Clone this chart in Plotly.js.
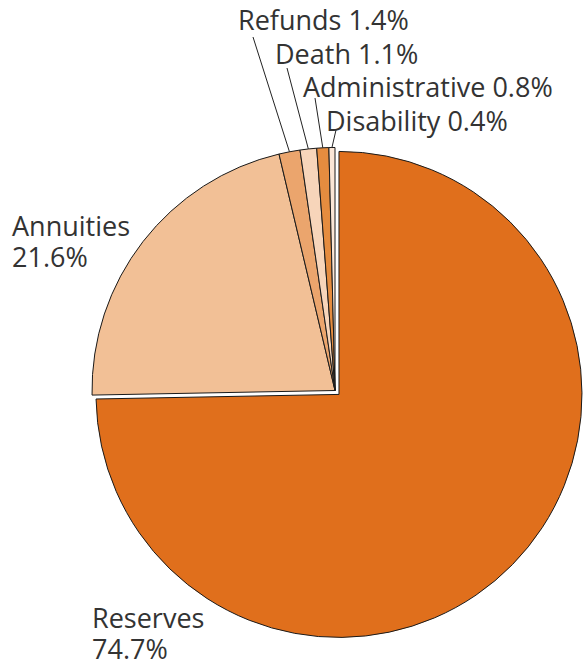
<!DOCTYPE html>
<html><head><meta charset="utf-8">
<script src="https://cdn.plot.ly/plotly-3.0.1.min.js"></script>
<style>html,body{margin:0;padding:0;background:#fff}#chart{width:584px;height:662px}</style>
</head><body><div id="chart"></div>
<script>
var categories = ["Reserves", "Annuities", "Refunds", "Death", "Administrative", "Disability"];
var shares = [74.7, 21.6, 1.4, 1.1, 0.8, 0.4];
var sliceColors = ["#E06F1C", "#F2C096", "#EBA56D", "#F7D5BA", "#E58C3F", "#FBE6D6"];
var pulls = [0.023, 0, 0, 0, 0, 0];

var W = 584, H = 662;
var CX = 335, CY = 390.5, R = 243;           // pie centre / radius in pixels
var maxPull = Math.max.apply(null, pulls);
var half = R * (1 + maxPull);
var dom = {
  x: [(CX - half) / W, (CX + half) / W],
  y: [1 - (CY + half) / H, 1 - (CY - half) / H]
};
function px(x) { return x / W; }
function py(y) { return 1 - y / H; }

// label placement (pixels): text anchor and leader-line top
var labelPos = {
  "Refunds":        {tx: 236, ty: 19, lx: 253, ly: 37},
  "Death":          {tx: 273, ty: 53, lx: 287, ly: 68},
  "Administrative": {tx: 301, ty: 87, lx: 315, ly: 98},
  "Disability":     {tx: 324, ty: 121, lx: 336, ly: 130},
  "Annuities":      {tx: 10, ty: 226, two: true},
  "Reserves":       {tx: 90, ty: 617, two: true}
};

var total = shares.reduce(function (a, b) { return a + b; }, 0);
var annotations = [], shapes = [];
var cum = 0;
var font = {family: "Open Sans, sans-serif", size: 27, color: "#333333"};
function note(x, y, text) {
  return {xref: "paper", yref: "paper", x: px(x), y: py(y), xanchor: "left", yanchor: "middle",
    text: text, showarrow: false, font: font};
}
for (var i = 0; i < categories.length; i++) {
  var mid = (cum + shares[i] / 2) / total * 2 * Math.PI;
  cum += shares[i];
  var p = labelPos[categories[i]];
  var pct = shares[i].toFixed(1) + "%";
  if (p.two) {
    annotations.push(note(p.tx, p.ty, categories[i]));
    annotations.push(note(p.tx, p.ty + 31, pct));
  } else {
    annotations.push(note(p.tx, p.ty, categories[i] + " " + pct));
    var ex = CX + R * Math.sin(mid), ey = CY - R * Math.cos(mid);
    shapes.push({type: "line", xref: "paper", yref: "paper", x0: px(p.lx), y0: py(p.ly), x1: px(ex), y1: py(ey),
      line: {color: "#222", width: 1}});
  }
}

var data = [{
  type: "pie",
  labels: categories,
  values: shares,
  sort: false,
  direction: "clockwise",
  rotation: 0,
  pull: pulls,
  textinfo: "none",
  hoverinfo: "none",
  showlegend: false,
  domain: dom,
  marker: {colors: sliceColors, line: {color: "#1a1a1a", width: 1}}
}];

var layout = {
  width: W, height: H,
  margin: {l: 0, r: 0, t: 0, b: 0},
  paper_bgcolor: "#fff",
  showlegend: false,
  annotations: annotations,
  shapes: shapes
};
Plotly.newPlot("chart", data, layout, {displayModeBar: false, staticPlot: true});
</script></body></html>
